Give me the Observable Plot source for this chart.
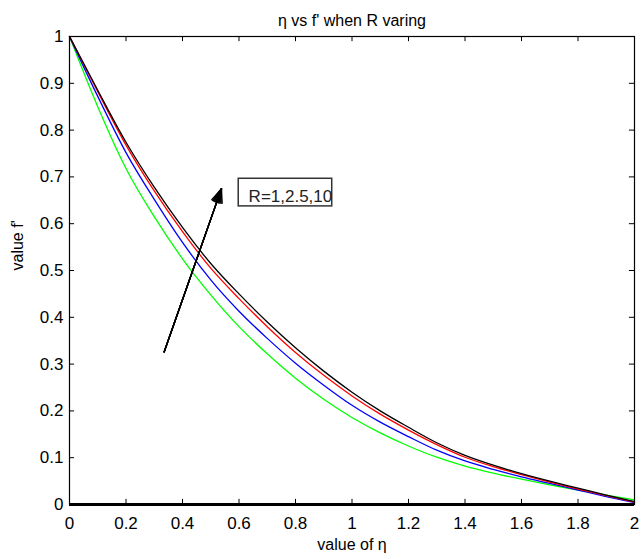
<!DOCTYPE html>
<html>
<head>
<meta charset="utf-8">
<script src="https://cdn.jsdelivr.net/npm/d3@7"></script>
<script src="https://cdn.jsdelivr.net/npm/@observablehq/plot@0.6"></script>
<style>
  body { margin: 0; background: white; }
</style>
</head>
<body>
<div id="chart"></div>
<script>
// η values (x axis)
const eta = [0, 0.1, 0.2, 0.3, 0.4, 0.5, 0.6, 0.7, 0.8, 0.9, 1.0, 1.1, 1.2, 1.3, 1.4, 1.5, 1.6, 1.7, 1.8, 1.9, 2.0];
// f' values for each R
const fGreen = [1, 0.850, 0.718, 0.615, 0.525, 0.448, 0.380, 0.322, 0.270, 0.225, 0.186, 0.153, 0.125, 0.101, 0.082, 0.067, 0.054, 0.042, 0.031, 0.020, 0.010];
const fBlue  = [1, 0.872, 0.752, 0.652, 0.560, 0.480, 0.413, 0.355, 0.302, 0.255, 0.212, 0.176, 0.145, 0.116, 0.093, 0.075, 0.059, 0.045, 0.031, 0.017, 0.004];
const fRed   = [1, 0.882, 0.768, 0.670, 0.583, 0.505, 0.440, 0.380, 0.325, 0.276, 0.232, 0.193, 0.159, 0.128, 0.101, 0.081, 0.064, 0.048, 0.033, 0.019, 0.005];
const fBlack = [1, 0.885, 0.774, 0.678, 0.592, 0.515, 0.450, 0.390, 0.335, 0.285, 0.240, 0.200, 0.165, 0.132, 0.105, 0.084, 0.066, 0.050, 0.035, 0.020, 0.006];

const xTicks = [0, 0.2, 0.4, 0.6, 0.8, 1, 1.2, 1.4, 1.6, 1.8, 2];
const yTicks = [0, 0.1, 0.2, 0.3, 0.4, 0.5, 0.6, 0.7, 0.8, 0.9, 1];
const xTickLabels = ["0", "0.2", "0.4", "0.6", "0.8", "1", "1.2", "1.4", "1.6", "1.8", "2"];
const yTickLabels = ["0", "0.1", "0.2", "0.3", "0.4", "0.5", "0.6", "0.7", "0.8", "0.9", "1"];

const titleText = "η vs f' when R varing";
const xLabel = "value of η";
const yLabel = "value f'";
const annotationText = "R=1,2.5,10";

// annotation geometry (data units)
const arrowData = [{x1: 0.335, y1: 0.326, x2: 0.538, y2: 0.675}];
const boxData = [{x1: 0.599, x2: 0.93, y1: 0.637, y2: 0.696}];
const labelData = [{x: 0.634, y: 0.658, text: annotationText}];

const series = [
  {values: fGreen, color: "#00ff00"},
  {values: fBlue, color: "#0000ff"},
  {values: fRed, color: "#ff0000"},
  {values: fBlack, color: "#000000"}
];

const lineMarks = series.map(s =>
  Plot.line(eta.map((x, i) => ({x, y: s.values[i]})), {
    x: "x", y: "y", stroke: s.color, strokeWidth: 1.3, curve: "monotone-x"
  })
);

const arrowMarks = [44, 36, 28, 20, 12, 4].map(a =>
  Plot.arrow(arrowData, {x1: "x1", y1: "y1", x2: "x2", y2: "y2", stroke: "black", strokeWidth: 1.3, headLength: 17, headAngle: a})
);

const chart = Plot.plot({
  width: 642,
  height: 559,
  marginLeft: 69,
  marginRight: 8,
  marginTop: 36,
  marginBottom: 55,
  style: {fontFamily: "'Liberation Sans', Arial, sans-serif", fontSize: "17px", background: "white", color: "black"},
  x: {domain: [0, 2], axis: null},
  y: {domain: [0, 1], axis: null},
  marks: [
    // tick labels
    Plot.axisX({ticks: xTicks, tickSize: 0, tickPadding: 12, tickFormat: (d, i) => xTickLabels[i], fontSize: 17}),
    Plot.axisY({ticks: yTicks, tickSize: 0, tickPadding: 6, tickFormat: (d, i) => yTickLabels[i], fontSize: 17, label: null}),
    // inward ticks on all sides
    Plot.ruleX(xTicks, {x: d => d, y1: 0, y2: 0.011, stroke: "black"}),
    Plot.ruleX(xTicks, {x: d => d, y1: 1, y2: 0.989, stroke: "black"}),
    Plot.ruleY(yTicks, {y: d => d, x1: 0, x2: 0.018, stroke: "black"}),
    Plot.ruleY(yTicks, {y: d => d, x1: 2, x2: 1.982, stroke: "black"}),
    ...lineMarks,
    Plot.frame({stroke: "black", strokeWidth: 1.2}),
    Plot.ruleY([0], {stroke: "black", strokeWidth: 3}),
    // annotation
    ...arrowMarks,
    Plot.rect(boxData, {x1: "x1", x2: "x2", y1: "y1", y2: "y2", fill: "none", stroke: "#333", strokeWidth: 1.5}),
    Plot.text(labelData, {x: "x", y: "y", text: "text", textAnchor: "start", fontSize: 17, fill: "#222"}),
    // titles
    Plot.text([titleText], {frameAnchor: "top", dy: -22, fontSize: 16}),
    Plot.text([xLabel], {frameAnchor: "bottom", dy: 45, fontSize: 16}),
    Plot.text([yLabel], {frameAnchor: "left", dx: -52, rotate: -90, fontSize: 16})
  ]
});

document.getElementById("chart").appendChild(chart);
</script>
</body>
</html>
